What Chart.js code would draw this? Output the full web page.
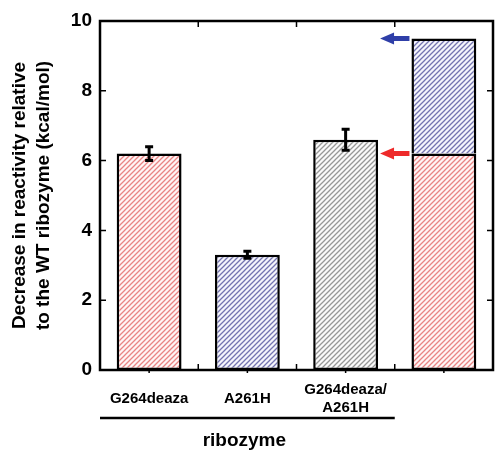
<!DOCTYPE html>
<html><head><meta charset="utf-8">
<script src="https://cdn.jsdelivr.net/npm/chart.js@4/dist/chart.umd.min.js"></script>
<style>html,body{margin:0;padding:0;background:#fff;}#wrap{width:496px;height:458px;}</style>
</head><body><div id="wrap"><canvas id="c" width="496" height="458"></canvas></div>
<script>
const categories = ['G264deaza', 'A261H', ['G264deaza/', 'A261H'], ''];
const values = [6.2, 3.3, 6.6, 6.2];
const errors = [0.2, 0.1, 0.3, null];
const upperPart = [null, null, null, 9.5];
const barHatch = ['red', 'blue', 'gray', 'red'];
const yTickValues = [0, 2, 4, 6, 8, 10];
const yTitle = ['Decrease in reactivity relative', 'to the WT ribozyme (kcal/mol)'];
const groupLabel = 'ribozyme';
const groupedCategories = [0, 1, 2];

const hatchLine = {red: '#e88484', blue: '#7474b0', gray: '#979797'};
const hatchBg = {red: '#fff5f5', blue: '#f5f5fc', gray: '#fafafa'};
function hatch(key) {
  const s = 5;
  const c = document.createElement('canvas');
  c.width = s; c.height = s;
  const g = c.getContext('2d');
  g.fillStyle = hatchBg[key];
  g.fillRect(0, 0, s, s);
  g.strokeStyle = hatchLine[key];
  g.lineWidth = 1.3;
  g.beginPath();
  g.moveTo(-1, s + 1); g.lineTo(s + 1, -1);
  g.moveTo(-1, 1); g.lineTo(1, -1);
  g.moveTo(s - 1, s + 1); g.lineTo(s + 1, s - 1);
  g.stroke();
  return g.createPattern(c, 'repeat');
}

const FONT = "'Liberation Sans', Arial, sans-serif";

const decor = {
  id: 'decor',
  afterDatasetsDraw(chart) {
    const {ctx, chartArea: a, scales: {x, y}} = chart;
    const meta0 = chart.getDatasetMeta(0);
    ctx.save();
    // error bars
    ctx.strokeStyle = '#000';
    ctx.lineWidth = 3;
    errors.forEach((e, i) => {
      if (e == null) return;
      const cx = meta0.data[i].x;
      const yt = y.getPixelForValue(values[i] + e);
      const yb = y.getPixelForValue(values[i] - e);
      ctx.beginPath();
      ctx.moveTo(cx, yt); ctx.lineTo(cx, yb);
      ctx.moveTo(cx - 4, yt); ctx.lineTo(cx + 4, yt);
      ctx.moveTo(cx - 4, yb); ctx.lineTo(cx + 4, yb);
      ctx.stroke();
    });
    // arrows
    const b3 = meta0.data[2], b4 = meta0.data[3];
    const tail = b4.x - b4.width / 2 - 2;
    const tip = b3.x + b3.width / 2 + 2;
    const drawArrow = (val, color) => {
      const yy = y.getPixelForValue(val);
      ctx.fillStyle = color;
      ctx.beginPath();
      ctx.moveTo(tip, yy);
      ctx.lineTo(tip + 14, yy - 6);
      ctx.lineTo(tip + 14, yy - 2.5);
      ctx.lineTo(tail, yy - 2.5);
      ctx.lineTo(tail, yy + 2.5);
      ctx.lineTo(tip + 14, yy + 2.5);
      ctx.lineTo(tip + 14, yy + 6);
      ctx.closePath();
      ctx.fill();
    };
    drawArrow(upperPart[3], '#2f3fa8');
    drawArrow(values[3], '#ee2a2a');
    // frame
    ctx.strokeStyle = '#000';
    ctx.lineWidth = 2.5;
    ctx.strokeRect(a.left, a.top, a.right - a.left, a.bottom - a.top);
    // y inner ticks
    ctx.lineWidth = 1.5;
    ctx.beginPath();
    yTickValues.forEach(v => {
      const yy = y.getPixelForValue(v);
      ctx.moveTo(a.left, yy); ctx.lineTo(a.left + 6, yy);
      ctx.moveTo(a.right, yy); ctx.lineTo(a.right - 6, yy);
    });
    // x boundary ticks (inside, top & bottom)
    const n = categories.length;
    for (let i = 1; i < n; i++) {
      const xx = (x.getPixelForValue(i - 1) + x.getPixelForValue(i)) / 2;
      ctx.moveTo(xx, a.top); ctx.lineTo(xx, a.top + 6);
      ctx.moveTo(xx, a.bottom); ctx.lineTo(xx, a.bottom - 6);
    }
    // x center ticks (outside)
    for (let i = 0; i < n; i++) {
      const xx = x.getPixelForValue(i);
      ctx.moveTo(xx, a.bottom); ctx.lineTo(xx, a.bottom + 3);
    }
    ctx.stroke();
    // group line and label
    const first = groupedCategories[0], last = groupedCategories[groupedCategories.length - 1];
    const half = (x.getPixelForValue(1) - x.getPixelForValue(0)) / 2;
    const gx0 = x.getPixelForValue(first) - half;
    const gx1 = x.getPixelForValue(last) + half;
    ctx.lineWidth = 2.5;
    ctx.beginPath();
    ctx.moveTo(gx0, 418); ctx.lineTo(gx1, 418);
    ctx.stroke();
    ctx.fillStyle = '#000';
    ctx.font = 'bold 19px ' + FONT;
    ctx.textAlign = 'center';
    ctx.textBaseline = 'middle';
    ctx.fillText(groupLabel, (gx0 + gx1) / 2 - 3, 441);
    ctx.restore();
  }
};

new Chart(document.getElementById('c'), {
  type: 'bar',
  data: {
    labels: categories,
    datasets: [
      {
        data: values,
        backgroundColor: barHatch.map(hatch),
        borderColor: '#000',
        borderWidth: 2.5,
        borderSkipped: false,
        grouped: false,
        barPercentage: 0.66,
        categoryPercentage: 1
      },
      {
        data: upperPart.map((v, i) => v == null ? null : [values[i], v]),
        backgroundColor: hatch('blue'),
        borderColor: '#000',
        borderWidth: 2.5,
        borderSkipped: 'bottom',
        grouped: false,
        barPercentage: 0.66,
        categoryPercentage: 1
      }
    ]
  },
  options: {
    responsive: false,
    animation: false,
    layout: {padding: {top: 21, right: 3, left: 0, bottom: 0}},
    plugins: {legend: {display: false}, tooltip: {enabled: false}},
    scales: {
      x: {
        grid: {display: false, drawTicks: false},
        border: {display: false},
        ticks: {
          color: '#000',
          font: {family: FONT, size: 15, weight: 'bold', lineHeight: 1.2},
          padding: 20,
          maxRotation: 0,
          autoSkip: false,
          crossAlign: 'center'
        },
        afterFit(s) { s.height = 88; }
      },
      y: {
        min: 0, max: 10,
        grid: {display: false, drawTicks: false},
        border: {display: false},
        afterBuildTicks(s) { s.ticks = yTickValues.map(v => ({value: v})); },
        ticks: {
          color: '#000',
          font: {family: FONT, size: 19, weight: 'bold'},
          padding: 8
        },
        title: {
          display: true,
          text: yTitle,
          color: '#000',
          font: {family: FONT, size: 19, weight: 'bold', lineHeight: 1.3},
          padding: {top: 7, bottom: 0}
        },
        afterFit(s) { s.width = 100; }
      }
    }
  },
  plugins: [decor]
});
</script>
</body></html>
